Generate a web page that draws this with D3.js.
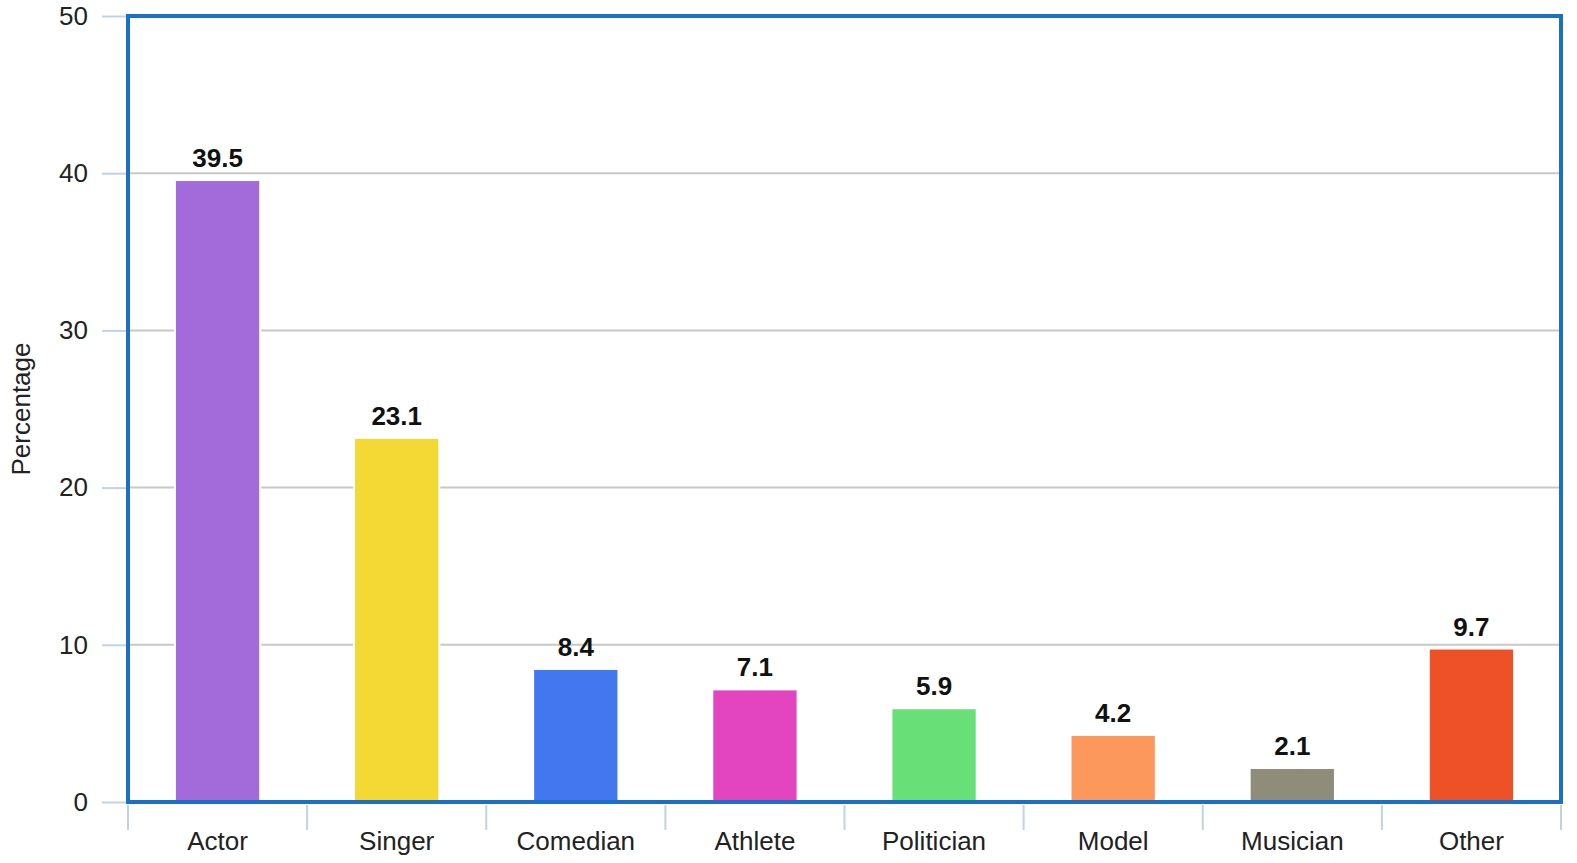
<!DOCTYPE html>
<html>
<head>
<meta charset="utf-8">
<script src="https://cdn.jsdelivr.net/npm/d3@7"></script>
<style>
  body { margin: 0; background: #fff; }
  text { font-family: "Liberation Sans", Arial, sans-serif; }
</style>
</head>
<body>
<div id="chart"></div>
<script>
// chart data
const categories = ["Actor", "Singer", "Comedian", "Athlete", "Politician", "Model", "Musician", "Other"];
const percentages = [39.5, 23.1, 8.4, 7.1, 5.9, 4.2, 2.1, 9.7];
const barColors = ["#a36ad9", "#f4d935", "#4277f0", "#e344bf", "#69e077", "#fd985c", "#8f8d79", "#ee5128"];
const yTicks = [0, 10, 20, 30, 40, 50];

const width = 1577;
const height = 863;
const margin = { top: 16, right: 16, bottom: 61, left: 128 };

const svg = d3
  .select("#chart")
  .append("svg")
  .attr("width", width)
  .attr("height", height);

const x = d3
  .scaleBand()
  .domain(categories)
  .range([margin.left, width - margin.right])
  .padding(0);

const y = d3
  .scaleLinear()
  .domain([0, 50])
  .range([height - margin.bottom, margin.top]);

// grid lines
svg
  .append("g")
  .selectAll("line")
  .data(yTicks.slice(1, -1))
  .enter()
  .append("line")
  .attr("x1", margin.left)
  .attr("x2", width - margin.right)
  .attr("y1", (d) => y(d))
  .attr("y2", (d) => y(d))
  .attr("stroke", "#c8c8c8")
  .attr("stroke-width", 2);

// y axis
const yAxis = svg
  .append("g")
  .attr("transform", `translate(${margin.left},0)`)
  .call(d3.axisLeft(y).tickValues(yTicks).tickSize(26).tickPadding(14));
yAxis.select(".domain").remove();
yAxis.selectAll(".tick line").attr("stroke", "#c2d2e4").attr("stroke-width", 2);
yAxis.selectAll(".tick text").attr("fill", "#222").style("font-size", "26px");

// x axis, ticks on the band edges
const xAxis = svg
  .append("g")
  .attr("transform", `translate(0,${height - margin.bottom})`)
  .call(d3.axisBottom(x).tickSize(0).tickPadding(30));
xAxis.select(".domain").remove();
xAxis.selectAll(".tick text").attr("fill", "#222").style("font-size", "26px");

svg
  .append("g")
  .selectAll("line")
  .data(categories.map((c) => x(c)).concat([x(categories[categories.length - 1]) + x.bandwidth()]))
  .enter()
  .append("line")
  .attr("x1", (d) => d)
  .attr("x2", (d) => d)
  .attr("y1", height - margin.bottom + 3)
  .attr("y2", height - margin.bottom + 28)
  .attr("stroke", "#c2d2e4")
  .attr("stroke-width", 2);

// bars
const barWidth = x.bandwidth() * 0.465;
svg
  .append("g")
  .selectAll("rect")
  .data(percentages)
  .enter()
  .append("rect")
  .attr("x", (d, i) => x(categories[i]) + x.bandwidth() / 2 - barWidth / 2)
  .attr("y", (d) => y(d))
  .attr("width", barWidth)
  .attr("height", (d) => y(0) - y(d))
  .attr("fill", (d, i) => barColors[i])
  .attr("stroke", "#fff")
  .attr("stroke-width", 4)
  .style("paint-order", "stroke");

// value labels
svg
  .append("g")
  .selectAll("text")
  .data(percentages)
  .enter()
  .append("text")
  .attr("x", (d, i) => x(categories[i]) + x.bandwidth() / 2)
  .attr("y", (d) => y(d) - 14)
  .attr("text-anchor", "middle")
  .attr("fill", "#111")
  .style("font-size", "26px")
  .style("font-weight", "bold")
  .text((d) => d.toFixed(1));

// plot frame
svg
  .append("rect")
  .attr("x", margin.left)
  .attr("y", margin.top)
  .attr("width", width - margin.left - margin.right)
  .attr("height", height - margin.top - margin.bottom)
  .attr("fill", "none")
  .attr("stroke", "#1b70c5")
  .attr("stroke-width", 4);

// y axis title
svg
  .append("text")
  .attr("transform", `translate(30,${(margin.top + height - margin.bottom) / 2}) rotate(-90)`)
  .attr("text-anchor", "middle")
  .attr("fill", "#222")
  .style("font-size", "26px")
  .text("Percentage");
</script>
</body>
</html>
